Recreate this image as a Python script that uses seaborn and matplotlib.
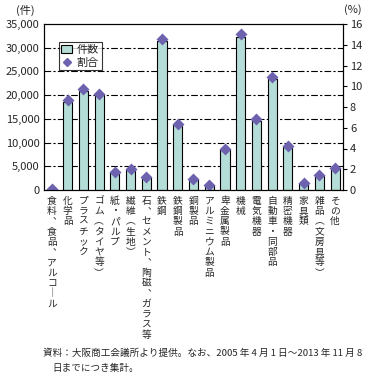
import numpy as np
import pandas as pd
import matplotlib
matplotlib.use("Agg")
import matplotlib.pyplot as plt
import seaborn as sns
from matplotlib.patches import Patch
from matplotlib.lines import Line2D
from matplotlib.ticker import FuncFormatter, FixedLocator

sns.set_theme(style="white")
plt.rcParams['font.family'] = ['Noto Sans CJK JP', 'DejaVu Sans']

categories = ["食料、食品、アルコール", "化学品", "プラスチック", "ゴム（タイヤ等）",
              "紙・パルプ", "繊維（生地）", "石、セメント、陶磁、ガラス等", "鉄鋼",
              "鉄鋼製品", "銅製品", "アルミニウム製品", "卑金属製品", "機械",
              "電気機器", "自動車・同部品", "精密機器", "家具類", "雑品（文房具等）", "その他"]
counts = [300, 18600, 20900, 20000, 3700, 4200, 2800, 31400, 13700, 2300,
          1050, 8650, 32200, 14550, 23400, 9130, 1480, 2950, 4570]
ratios = [0.1, 8.7, 9.7, 9.3, 1.7, 2.0, 1.3, 14.6, 6.4, 1.1,
          0.5, 4.0, 15.0, 6.8, 10.9, 4.2, 0.7, 1.4, 2.1]
left_ticks = [0, 5000, 10000, 15000, 20000, 25000, 30000, 35000]
right_ticks = [0, 2, 4, 6, 8, 10, 12, 14, 16]

bar_color = "#b3ddd6"
dot_color = "#6c62ae"

df = pd.DataFrame({"cat": categories, "count": counts, "ratio": ratios})

fig = plt.figure(figsize=(3.71, 3.76), dpi=100)
ax = fig.add_axes([44/371, 1-190/376, 299/371, 166/376])

sns.barplot(data=df, x="cat", y="count", ax=ax, color=bar_color,
            edgecolor="black", linewidth=0.8, width=0.58, saturation=1)
ax.set_ylim(0, 35000)
ax.set_xlim(-0.5, len(categories) - 0.5)
ax.set_yticks(left_ticks)
ax.yaxis.set_major_formatter(FuncFormatter(lambda v, p: f"{int(v):,}"))
for t in left_ticks[1:-1]:
    ax.axhline(t, color="black", lw=0.8, ls=(0, (6, 2, 2, 2)), zorder=0)
ax.set_xlabel("")
ax.set_ylabel("")


def vert(s):
    rep = {"、": "︑", "（": "︵", "）": "︶", "ー": "｜"}
    return "\n".join(rep.get(c, c) for c in s)


ax.set_xticks(range(len(categories)))
ax.set_xticklabels([vert(c) for c in categories], fontsize=7, linespacing=1.04,
                   va="top", ha="center")
ax.tick_params(axis="x", which="major", length=0, pad=4)
ax.xaxis.set_minor_locator(FixedLocator(np.arange(0.5, len(categories) - 1, 1)))
ax.tick_params(axis="x", which="minor", direction="in", length=4, width=0.8, color="black")
ax.tick_params(axis="y", length=0, labelsize=8, pad=3)
for s in ax.spines.values():
    s.set_color("black")
    s.set_linewidth(0.8)

ax2 = ax.twinx()
sns.pointplot(data=df, x="cat", y="ratio", ax=ax2, linestyle="none", markers="D",
              color=dot_color, markersize=4.5, errorbar=None)
ax2.set_ylim(0, 16)
ax2.set_xlim(-0.5, len(categories) - 0.5)
ax2.set_yticks(right_ticks)
ax2.set_ylabel("")
ax2.set_xlabel("")
ax2.tick_params(axis="y", direction="out", length=3, width=0.8, labelsize=8, pad=2, color="black")
for s in ax2.spines.values():
    s.set_color("black")
    s.set_linewidth(0.8)

handles = [Patch(facecolor=bar_color, edgecolor="black", linewidth=0.8, label="件数"),
           Line2D([], [], marker="D", color=dot_color, linestyle="none", markersize=4.5, label="割合")]
leg = ax.legend(handles=handles, loc="upper left", bbox_to_anchor=(0.03, 0.925),
                fontsize=8, frameon=True, fancybox=False, edgecolor="black",
                handlelength=1.0, handletextpad=0.4, borderpad=0.25, labelspacing=0.25)
leg.get_frame().set_linewidth(0.8)
leg.set_zorder(10)

fig.text(16/371, 1-10/376, "(件)", fontsize=8, va="center", ha="left")
fig.text(344/371, 1-10/376, "(%)", fontsize=8, va="center", ha="left")

fig.text(43/371, 1-353/376, "資料：大阪商工会議所より提供。なお、2005 年 4 月 1 日～2013 年 11 月 8",
         fontsize=6.9, va="center", ha="left")
fig.text(52/371, 1-368/376, "日までにつき集計。", fontsize=6.9, va="center", ha="left")

fig.savefig("out.png", dpi=100)
